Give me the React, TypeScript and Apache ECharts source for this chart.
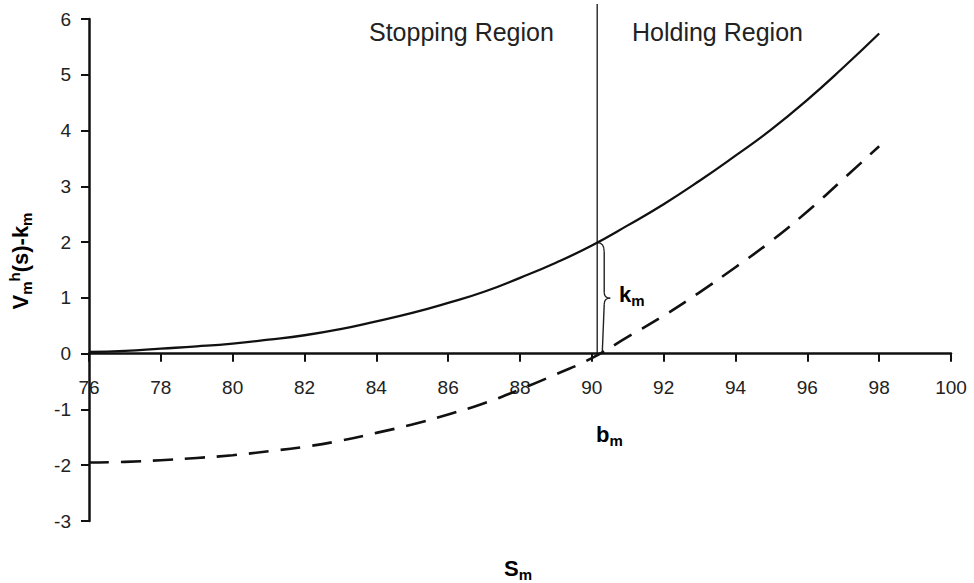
import React, { useEffect, useRef } from "react";
import * as echarts from "echarts";

// Stock price grid (S_m)
const sValues = [76, 77, 78, 79, 80, 81, 82, 83, 84, 85, 86, 87, 88, 89, 90, 91, 92, 93, 94, 95, 96, 97, 98];
// Solid curve: V_m h(s)
const solidValues = [0.03, 0.05, 0.09, 0.13, 0.18, 0.25, 0.33, 0.44, 0.58, 0.73, 0.91, 1.11, 1.36, 1.63, 1.94, 2.3, 2.68, 3.1, 3.55, 4.02, 4.55, 5.13, 5.74];
// Dashed curve: V_m h(s) - k_m
const dashedValues = [-1.95, -1.94, -1.91, -1.87, -1.82, -1.75, -1.67, -1.56, -1.42, -1.27, -1.09, -0.89, -0.64, -0.37, -0.08, 0.3, 0.68, 1.1, 1.55, 2.02, 2.55, 3.13, 3.72];
// Boundary b_m and the solid curve value there
const boundary = 90.15;
const valueAtBoundary = 1.99;
const regionLabels = ["Stopping Region", "Holding Region"];

const FONT = "'Liberation Sans', Arial, Helvetica, sans-serif";

const richStyles = {
  b: { fontSize: 22, fontWeight: "bold", fontFamily: FONT, color: "#222", lineHeight: 27, verticalAlign: "middle" },
  s: { fontSize: 15, fontWeight: "bold", fontFamily: FONT, color: "#222", lineHeight: 15, verticalAlign: "bottom" },
  p: { fontSize: 15, fontWeight: "bold", fontFamily: FONT, color: "#222", lineHeight: 15, verticalAlign: "top" },
};

const GRID = { left: 89, right: 23, top: 19, bottom: 62 };
const Y_MIN = -3;
const Y_MAX = 6;

export default function App() {
  const ref = useRef<HTMLDivElement>(null);
  useEffect(() => {
    document.body.style.margin = "0";
    const chart = echarts.init(ref.current!, null, { renderer: "svg" });
    const plotHeight = 583 - GRID.top - GRID.bottom;
    const zeroOffset = -(plotHeight * (0 - Y_MIN)) / (Y_MAX - Y_MIN);
    chart.setOption({
      animation: false,
      backgroundColor: "#fff",
      grid: GRID,
      xAxis: {
        type: "value",
        min: 76,
        max: 100,
        interval: 2,
        offset: zeroOffset,
        axisLine: { onZero: false, lineStyle: { color: "#111", width: 2.5 } },
        axisTick: { show: true, inside: false, length: 8, lineStyle: { color: "#111", width: 2 } },
        axisLabel: { margin: 24, fontSize: 19, color: "#222", fontFamily: FONT },
        splitLine: { show: false },
      },
      yAxis: {
        type: "value",
        min: Y_MIN,
        max: Y_MAX,
        interval: 1,
        axisLine: { show: true, onZero: false, lineStyle: { color: "#111", width: 2.5 } },
        axisTick: { show: true, inside: false, length: 8, lineStyle: { color: "#111", width: 2 } },
        axisLabel: { margin: 18, fontSize: 19, color: "#222", fontFamily: FONT },
        splitLine: { show: false },
      },
      series: [
        {
          type: "line",
          data: sValues.map((s, i) => [s, solidValues[i]]),
          smooth: true,
          symbol: "none",
          lineStyle: { color: "#111", width: 2.3 },
        },
        {
          type: "line",
          data: sValues.map((s, i) => [s, dashedValues[i]]),
          smooth: true,
          symbol: "none",
          lineStyle: { color: "#111", width: 2.6, type: [20, 12] },
        },
      ],
    });

    const [bx, by0] = chart.convertToPixel({ gridIndex: 0 } as any, [boundary, 0]) as number[];
    const [, byTop] = chart.convertToPixel({ gridIndex: 0 } as any, [boundary, valueAtBoundary]) as number[];
    const mid = (by0 + byTop) / 2;
    const braceStyle = { stroke: "#222", lineWidth: 1.4, fill: "none" };

    chart.setOption({
      graphic: [
        { type: "line", shape: { x1: bx, y1: 4, x2: bx, y2: by0 }, style: { stroke: "#333", lineWidth: 1.5 } },
        { type: "bezierCurve", shape: { x1: bx, y1: byTop, x2: bx + 7, y2: byTop + 9, cpx1: bx + 7, cpy1: byTop }, style: braceStyle },
        { type: "line", shape: { x1: bx + 7, y1: byTop + 9, x2: bx + 7, y2: mid - 6 }, style: braceStyle },
        { type: "bezierCurve", shape: { x1: bx + 7, y1: mid - 6, x2: bx + 13, y2: mid, cpx1: bx + 7, cpy1: mid }, style: braceStyle },
        { type: "bezierCurve", shape: { x1: bx + 13, y1: mid, x2: bx + 7, y2: mid + 6, cpx1: bx + 7, cpy1: mid }, style: braceStyle },
        { type: "line", shape: { x1: bx + 7, y1: mid + 6, x2: bx + 5, y2: by0 }, style: braceStyle },
        {
          type: "text",
          x: 369,
          y: 32,
          style: { text: regionLabels[0], fontSize: 25, fontFamily: FONT, fill: "#222", textAlign: "left", textVerticalAlign: "middle", align: "left", verticalAlign: "middle" },
        },
        {
          type: "text",
          x: 632,
          y: 32,
          style: { text: regionLabels[1], fontSize: 25, fontFamily: FONT, fill: "#222", textAlign: "left", textVerticalAlign: "middle", align: "left", verticalAlign: "middle" },
        },
        {
          type: "text",
          x: 20,
          y: 261,
          rotation: Math.PI / 2,
          style: { text: "{b|V}{s|m}{p|h}{b|(s)-k}{s|m}", rich: richStyles, textAlign: "center", textVerticalAlign: "middle", align: "center", verticalAlign: "middle" },
        },
        {
          type: "text",
          x: 619,
          y: 294,
          style: { text: "{b|k}{s|m}", rich: richStyles, textAlign: "left", textVerticalAlign: "middle", align: "left", verticalAlign: "middle" },
        },
        {
          type: "text",
          x: 596,
          y: 434,
          style: { text: "{b|b}{s|m}", rich: richStyles, textAlign: "left", textVerticalAlign: "middle", align: "left", verticalAlign: "middle" },
        },
        {
          type: "text",
          x: 504,
          y: 568,
          style: { text: "{b|S}{s|m}", rich: richStyles, textAlign: "left", textVerticalAlign: "middle", align: "left", verticalAlign: "middle" },
        },
      ],
    });
    return () => chart.dispose();
  }, []);
  return <div ref={ref} style={{ position: "absolute", left: 0, top: 0, width: 974, height: 583 }} />;
}
